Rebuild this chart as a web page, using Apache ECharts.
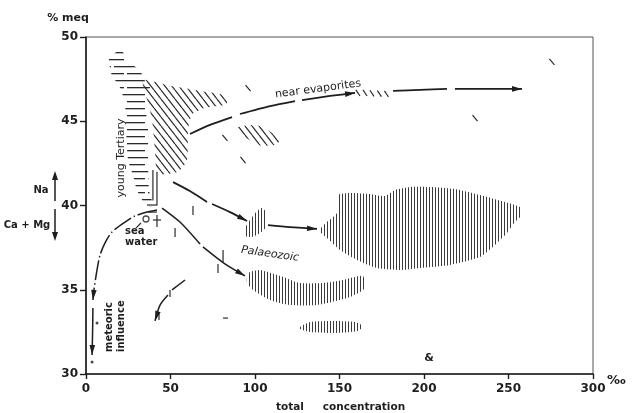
<!DOCTYPE html>
<html><head><meta charset="utf-8">
<script src="https://cdn.jsdelivr.net/npm/echarts@6/dist/echarts.min.js"></script>
<style>html,body{margin:0;padding:0;background:#fff}#c{width:633px;height:413px}</style>
</head><body><div id="c"></div>
<script>
// ---- axes ----
const xTicks = [0, 50, 100, 150, 200, 250, 300];   // total concentration, ‰
const yTicks = [30, 35, 40, 45, 50];               // Na, % meq

// ---- hatched fields (outline points: [total concentration ‰, Na % meq]) ----
const youngTertiaryField = [[17.8,49.1],[13.6,48.7],[14.2,48.2],[15.4,47.7],[18.3,47.3],[20.1,47.0],[21.9,46.5],[23.1,46.0],[23.7,44.5],[24.9,42.7],[27.8,41.8],[30.2,40.9],[35.5,40.0],[39.6,40.0],[37.3,40.9],[36.7,42.7],[36.7,44.5],[34.9,46.3],[37.9,47.0],[34.9,47.4],[32.0,48.0],[24.3,48.6],[21.9,49.1]];
const evaporiteField = [[33.7,47.45],[49.7,47.1],[67.5,46.8],[84.0,46.5],[82.8,46.0],[70.4,45.8],[62.7,45.4],[60.4,44.5],[59.8,42.7],[54.4,42.0],[42.6,41.9],[40.8,43.3],[39.1,45.1],[36.1,46.3]];
const evaporitePatch = [[89.9,44.66],[100.0,44.78],[105.9,44.6],[114.8,43.89],[111.8,43.59],[101.8,43.59],[91.1,44.3]];
const palaeozoicSmall = [[94.1,38.66],[97.0,39.14],[101.2,39.67],[104.1,39.85],[106.5,39.61],[106.5,38.72],[103.0,38.37],[98.2,38.13],[94.1,38.19]];
const palaeozoicMain = [[138.5,38.61],[142.6,39.02],[148.5,39.55],[149.1,40.62],[156.2,40.74],[168.0,40.68],[176.9,40.56],[182.8,40.92],[191.7,41.1],[203.6,41.1],[218.3,40.98],[233.1,40.62],[247.9,40.21],[256.8,39.91],[258.0,39.43],[253.8,39.02],[249.1,38.37],[242.0,37.66],[233.1,36.94],[215.4,36.47],[197.6,36.29],[185.8,36.17],[172.2,36.29],[160.4,36.77],[150.3,37.36],[142.6,38.07],[138.5,38.43]];
const palaeozoicLower = [[95.3,35.76],[97.0,36.05],[103.0,36.17],[116.6,35.76],[126.6,35.4],[140.2,35.4],[152.1,35.58],[163.9,35.82],[164.5,35.04],[156.2,34.57],[136.7,34.09],[120.7,34.09],[108.9,34.39],[98.8,34.99],[95.3,35.4]];
const palaeozoicBottom = [[126.6,32.79],[132.5,33.09],[147.3,33.15],[159.2,33.09],[163.9,32.85],[160.9,32.55],[147.3,32.43],[132.5,32.49],[126.6,32.67]];

// ---- single strokes [x1, y1, x2, y2] ----
const diagonalStrokes = [[94.4,47.15,97.4,46.79],[80.7,44.19,83.7,43.83],[91.4,42.88,94.4,42.52],[274.2,48.7,277.2,48.34],[228.7,45.37,231.7,45.01],
  [159.7,46.86,162.1,46.5],[163.9,46.86,166.3,46.5],[168.0,46.84,170.4,46.48],[172.4,46.82,174.8,46.46],[176.6,46.8,179.0,46.44]];
const verticalStrokes = [[39.6,42.1,39.6,40.3],[42.0,42.0,42.0,40.0],[63.3,39.97,63.3,39.43],[52.7,38.66,52.7,38.13],[81.1,37.36,81.1,36.65],[78.1,36.53,78.1,35.99],[49.7,34.99,49.7,34.57],[43.2,33.62,43.2,33.2],[42.0,39.44,42.0,38.72]];
const horizontalStrokes = [[36.1,40.03,42.0,40.03],[36.7,39.61,42.0,39.61],[39.6,39.14,44.4,39.14],[81.1,33.32,84.0,33.32]];
const seaWaterLeader = [[32.5,38.96,29.6,38.66]];

// ---- trend arrows ----
const evaporitesA = [[61.5,44.24],[73.4,44.78],[86.4,45.25]];
const evaporitesB = [[91.1,45.43],[108.9,45.9],[123.7,46.2]];
const evaporitesC = [[127.8,46.26],[144.4,46.5],[159.2,46.68]];
const evaporitesD = [[181.7,46.8],[197.6,46.86],[213.6,46.92]];
const evaporitesE = [[218.3,46.92],[239.1,46.92],[258.0,46.92]];
const palaeoUpperA = [[51.5,41.39],[61.5,40.86],[71.6,40.21]];
const palaeoUpperB = [[74.6,40.09],[85.2,39.61],[95.3,39.08]];
const palaeoUpperC = [[107.7,38.84],[120.7,38.72],[136.7,38.61]];
const palaeoLowerA = [[45.0,39.85],[55.6,39.02],[67.5,37.71]];
const palaeoLowerB = [[69.2,37.54],[82.2,36.53],[94.1,35.82]];
const meteoricA = [[42.0,39.73],[36.1,39.61],[29.0,39.38],[23.1,39.02],[15.4,38.43],[11.2,37.77],[8.3,37.06],[6.5,36.17],[4.7,34.99],[4.1,34.39]];
const meteoricB = [[4.1,33.92],[3.9,32.5],[3.6,31.13]];
const smallArrowA = [[58.6,35.58],[50.9,34.99]];
const smallArrowB = [[48.5,34.69],[43.8,34.09],[40.8,33.15]];
const meteoricDots = [[6.5,33.03],[3.6,30.71]];
const seaWater = [[35.5,39.2]];

// ---- patterns ----
function makePattern(w, h, draw) {
  const c = document.createElement('canvas'); c.width = w; c.height = h;
  draw(c.getContext('2d')); return { image: c, repeat: 'repeat' };
}
const vPat = makePattern(3, 8, g => { g.fillStyle = '#3a3a3a'; g.fillRect(0, 0, 1, 8); });
const hPat = makePattern(34, 14, g => { g.fillStyle = '#2a2a2a';
  g.fillRect(0, 3, 22, 1.3); g.fillRect(25, 3, 9, 1.3);
  g.fillRect(0, 10, 9, 1.3); g.fillRect(12, 10, 22, 1.3); });
const dPat = makePattern(7, 9, g => { g.strokeStyle = '#2a2a2a'; g.lineWidth = 1.2; g.beginPath();
  [-7, 0, 7].forEach(o => { g.moveTo(o, 0); g.lineTo(o + 7, 9); }); g.stroke(); });

const INK = '#1e1e1e';
function fieldSeries(points, fill) {
  return { type: 'custom', coordinateSystem: 'cartesian2d', silent: true, animation: false, z: 2, data: points,
    renderItem(params, api) {
      if (params.dataIndex !== 0) return null;
      return { type: 'polygon', shape: { points: points.map(p => api.coord(p)), smooth: 0.2 }, style: { fill } };
    } };
}
function strokeSeries(list, width) {
  return { type: 'custom', coordinateSystem: 'cartesian2d', silent: true, animation: false, z: 3, data: list,
    dimensions: ['x1','y1','x2','y2'], encode: { x: [0, 2], y: [1, 3] },
    renderItem(params, api) {
      const a = api.coord([api.value(0), api.value(1)]), b = api.coord([api.value(2), api.value(3)]);
      return { type: 'line', shape: { x1: a[0], y1: a[1], x2: b[0], y2: b[1] }, style: { stroke: '#2a2a2a', lineWidth: width } };
    } };
}
function pathSeries(points, opt) {
  return { type: 'custom', coordinateSystem: 'cartesian2d', silent: true, animation: false, z: 5, data: points,
    renderItem(params, api) {
      if (params.dataIndex !== 0) return null;
      const pts = points.map(p => api.coord(p));
      const ch = [{ type: 'polyline', shape: { points: pts, smooth: 0.25 },
        style: { stroke: INK, lineWidth: opt.w || 1.8, fill: null, lineDash: opt.dash || null } }];
      if (opt.arrow) {
        const a = pts[pts.length - 2], b = pts[pts.length - 1];
        const t = Math.atan2(b[1] - a[1], b[0] - a[0]), L = 10, W = 2.8;
        const bx = b[0] - L * Math.cos(t), by = b[1] - L * Math.sin(t);
        ch.push({ type: 'polygon', shape: { points: [b, [bx + W * Math.sin(t), by - W * Math.cos(t)], [bx - W * Math.sin(t), by + W * Math.cos(t)]] }, style: { fill: INK } });
      }
      return { type: 'group', children: ch };
    } };
}

const axisFont = 'DejaVu Sans';
const chart = echarts.init(document.getElementById('c'));
chart.setOption({
  animation: false,
  backgroundColor: '#fff',
  grid: { left: 86, right: 40, top: 37, bottom: 39, show: true, borderColor: '#555', borderWidth: 1, outerBoundsMode: 'none', containLabel: false },
  xAxis: { type: 'value', min: xTicks[0], max: xTicks[xTicks.length - 1], interval: 50,
    axisLine: { lineStyle: { color: INK, width: 1.6 } }, axisTick: { length: 5, lineStyle: { color: INK, width: 1.4 } },
    axisLabel: { color: INK, fontSize: 12, fontWeight: 'bold', fontFamily: axisFont, margin: 9 }, splitLine: { show: false } },
  yAxis: { type: 'value', min: yTicks[0], max: yTicks[yTicks.length - 1], interval: 5,
    axisLine: { show: true, lineStyle: { color: INK, width: 1.6 } }, axisTick: { show: true, length: 6, lineStyle: { color: INK, width: 1.4 } },
    axisLabel: { color: INK, fontSize: 12, fontWeight: 'bold', fontFamily: axisFont, margin: 8 }, splitLine: { show: false } },
  series: [
    fieldSeries(youngTertiaryField, hPat),
    fieldSeries(evaporiteField, dPat),
    fieldSeries(evaporitePatch, dPat),
    fieldSeries(palaeozoicSmall, vPat),
    fieldSeries(palaeozoicMain, vPat),
    fieldSeries(palaeozoicLower, vPat),
    fieldSeries(palaeozoicBottom, vPat),
    strokeSeries(diagonalStrokes, 1.2),
    strokeSeries(verticalStrokes, 1.2),
    strokeSeries(horizontalStrokes, 1.2),
    strokeSeries(seaWaterLeader, 1.2),
    pathSeries(evaporitesA, {}), pathSeries(evaporitesB, {}), pathSeries(evaporitesC, { arrow: true }),
    pathSeries(evaporitesD, {}), pathSeries(evaporitesE, { arrow: true }),
    pathSeries(palaeoUpperA, {}), pathSeries(palaeoUpperB, { arrow: true }), pathSeries(palaeoUpperC, { arrow: true }),
    pathSeries(palaeoLowerA, { w: 1.5 }), pathSeries(palaeoLowerB, { w: 1.5, arrow: true }),
    pathSeries(meteoricA, { w: 1.5, dash: [20, 3, 1.5, 3], arrow: true }), pathSeries(meteoricB, { w: 1.5, arrow: true }),
    pathSeries(smallArrowA, { w: 1.5 }), pathSeries(smallArrowB, { w: 1.5, arrow: true }),
    { type: 'scatter', data: meteoricDots, symbol: 'circle', symbolSize: 3, itemStyle: { color: INK }, silent: true, z: 6 },
    { type: 'scatter', data: seaWater, symbol: 'circle', symbolSize: 6, itemStyle: { color: '#fff', borderColor: INK, borderWidth: 1.3 }, silent: true, z: 6 }
  ],
  graphic: [
    { type: 'text', x: 68, y: 18, style: { text: '% meq', font: 'bold 11px DejaVu Sans', fill: INK, align: 'center', verticalAlign: 'middle' } },
    { type: 'text', x: 41, y: 190, style: { text: 'Na', font: 'bold 10px DejaVu Sans', fill: INK, align: 'center', verticalAlign: 'middle' } },
    { type: 'text', x: 27, y: 225, style: { text: 'Ca + Mg', font: 'bold 10px DejaVu Sans', fill: INK, align: 'center', verticalAlign: 'middle' } },
    { type: 'line', shape: { x1: 55, y1: 201, x2: 55, y2: 178 }, style: { stroke: INK, lineWidth: 1.5 } },
    { type: 'polygon', shape: { points: [[55, 171], [52, 180], [58, 180]] }, style: { fill: INK } },
    { type: 'line', shape: { x1: 55, y1: 209, x2: 55, y2: 234 }, style: { stroke: INK, lineWidth: 1.5 } },
    { type: 'polygon', shape: { points: [[55, 241], [52, 232], [58, 232]] }, style: { fill: INK } },
    { type: 'text', x: 290, y: 407, style: { text: 'total', font: 'bold 10.5px DejaVu Sans', fill: INK, align: 'center', verticalAlign: 'middle' } },
    { type: 'text', x: 364, y: 407, style: { text: 'concentration', font: 'bold 10.5px DejaVu Sans', fill: INK, align: 'center', verticalAlign: 'middle' } },
    { type: 'text', x: 607, y: 381, style: { text: '‰', font: 'bold 13px DejaVu Sans', fill: INK, align: 'left', verticalAlign: 'middle' } },
    { type: 'text', x: 121, y: 158, rotation: Math.PI / 2, style: { text: 'young Tertiary', font: '11px DejaVu Sans', fill: INK, align: 'center', verticalAlign: 'middle' } },
    { type: 'text', x: 318, y: 89, rotation: 0.13, style: { text: 'near evaporites', font: '11px DejaVu Sans', fill: INK, align: 'center', verticalAlign: 'middle' } },
    { type: 'text', x: 270, y: 254, rotation: -0.14, style: { text: 'Palaeozoic', font: 'italic 11px DejaVu Sans', fill: INK, align: 'center', verticalAlign: 'middle' } },
    { type: 'text', x: 125, y: 231, style: { text: 'sea', font: 'bold 10px DejaVu Sans', fill: INK, align: 'left', verticalAlign: 'middle' } },
    { type: 'text', x: 125, y: 242, style: { text: 'water', font: 'bold 10px DejaVu Sans', fill: INK, align: 'left', verticalAlign: 'middle' } },
    { type: 'text', x: 109, y: 352, rotation: Math.PI / 2, style: { text: 'meteoric', font: 'bold 10px DejaVu Sans', fill: INK, align: 'left', verticalAlign: 'middle' } },
    { type: 'text', x: 121, y: 352, rotation: Math.PI / 2, style: { text: 'influence', font: 'bold 10px DejaVu Sans', fill: INK, align: 'left', verticalAlign: 'middle' } },
    { type: 'text', x: 429, y: 358, style: { text: '&', font: 'bold 11px DejaVu Sans', fill: INK, align: 'center', verticalAlign: 'middle' } }
  ]
});
</script>
</body></html>
